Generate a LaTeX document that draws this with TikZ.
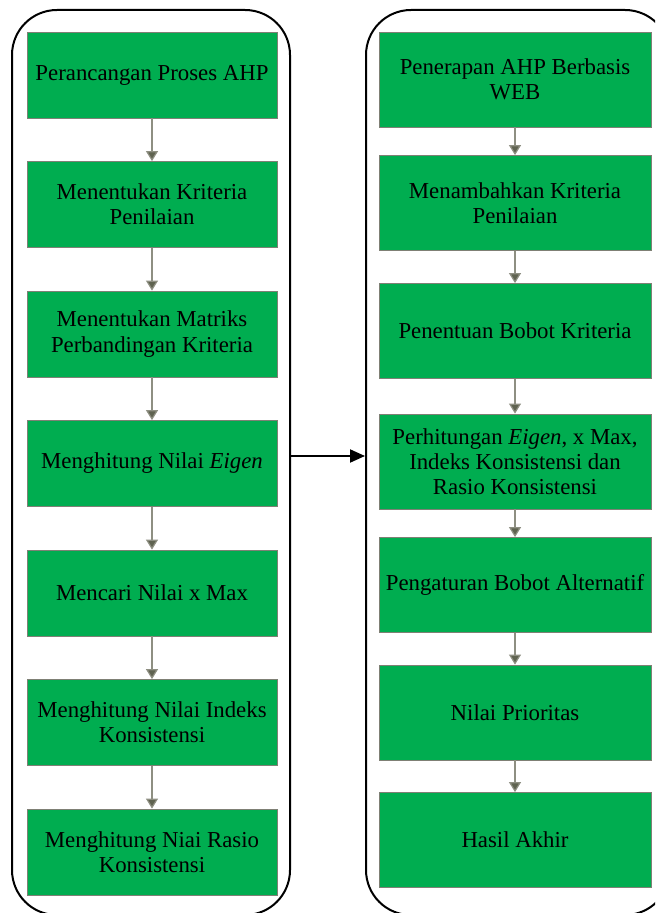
\documentclass[tikz,border=0pt]{standalone}
\usepackage{fontspec}
\setmainfont{Liberation Serif}
\usetikzlibrary{arrows.meta}
\definecolor{boxgreen}{HTML}{00AD50}
\definecolor{boxline}{HTML}{7F8075}
\definecolor{flowline}{HTML}{8E8F82}
\definecolor{flowtip}{HTML}{5F6350}

\begin{document}
\begin{tikzpicture}[x=0.5pt, y=-0.5pt,
  font=\fontsize{11.4}{12.6}\selectfont,
  frame/.style={draw=black, line width=1pt, rounded corners=22.5pt, minimum width=#1},
  lbox/.style={fill=boxgreen, draw=boxline, line width=0.4pt, align=center,
    minimum width=125pt, minimum height=43pt, inner sep=1pt},
  rbox/.style={fill=boxgreen, draw=boxline, line width=0.4pt, align=center,
    minimum width=136pt, minimum height=47.5pt, inner sep=1pt},
  flow/.style={draw=flowline, line width=0.6pt, -{Triangle[length=5pt, width=6pt, fill=flowtip]}}]
\useasboundingbox (0,0) rectangle (655,913);
\clip (0,0) rectangle (655,913);

% outer frames
\node[frame=139pt, minimum height=452.5pt] (leftframe) at (151,462.5) {};
\node[frame=152pt, minimum height=452.5pt] (rightframe) at (518,462.5) {};

% left column
\draw 
(152, 75) node[lbox](l1){Perancangan Proses AHP}
(152, 204.5) node[lbox](l2){Menentukan Kriteria\\Penilaian}
(152, 334) node[lbox](l3){Menentukan Matriks\\Perbandingan Kriteria}
(152, 463.5) node[lbox](l4){Menghitung Nilai \textit{Eigen}}
(152, 593) node[lbox](l5){Mencari Nilai x Max}
(152, 722.5) node[lbox](l6){Menghitung Nilai Indeks\\Konsistensi}
(152, 852) node[lbox](l7){Menghitung Niai Rasio\\Konsistensi};

% right column
\draw 
(515, 79.5) node[rbox](r1){Penerapan AHP Berbasis\\WEB}
(515, 203) node[rbox](r2){Menambahkan Kriteria\\Penilaian}
(515, 331) node[rbox](r3){Penentuan Bobot Kriteria}
(515, 461.5) node[rbox](r4){Perhitungan \textit{Eigen}, x Max,\\Indeks Konsistensi dan\\Rasio Konsistensi}
(515, 585) node[rbox](r5){Pengaturan Bobot Alternatif}
(515, 712.5) node[rbox](r6){Nilai Prioritas}
(515, 840) node[rbox](r7){Hasil Akhir};

\draw[flow] (l1) -- (l2);
\draw[flow] (l2) -- (l3);
\draw[flow] (l3) -- (l4);
\draw[flow] (l4) -- (l5);
\draw[flow] (l5) -- (l6);
\draw[flow] (l6) -- (l7);

\draw[flow] (r1) -- (r2);
\draw[flow] (r2) -- (r3);
\draw[flow] (r3) -- (r4);
\draw[flow] (r4) -- (r5);
\draw[flow] (r5) -- (r6);
\draw[flow] (r6) -- (r7);

\draw[line width=1pt, -{Triangle[length=7.5pt, width=6.5pt]}] ([yshift=3.25pt]leftframe.east) -- ([yshift=3.25pt]rightframe.west);

\end{tikzpicture}
\end{document}
